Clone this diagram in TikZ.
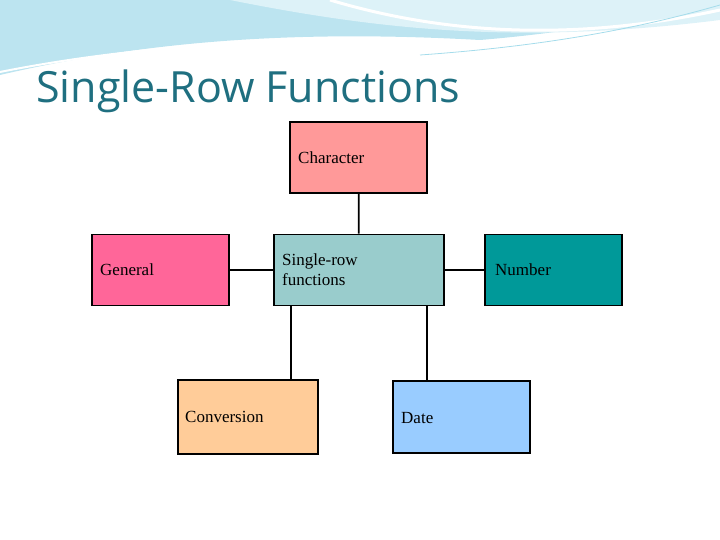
\documentclass[tikz,border=0pt]{standalone}
\usepackage{fontspec}
\setmainfont{Liberation Serif}
\newfontfamily\titlefont{Open Sans}
\usetikzlibrary{positioning}

\definecolor{charcol}{HTML}{FF9999}
\definecolor{gencol}{HTML}{FF6699}
\definecolor{srcol}{HTML}{99CCCC}
\definecolor{numcol}{HTML}{009999}
\definecolor{convcol}{HTML}{FFCC99}
\definecolor{datecol}{HTML}{99CCFF}
\definecolor{titlecol}{HTML}{1F6F80}
\definecolor{wave}{HTML}{8FD3E6}

\tikzset{
  fbox/.style={draw=black, line width=1.8pt, minimum width=137pt, minimum height=71pt,
    inner sep=0pt},
  lbl/.style={anchor=west, align=left, inner sep=0pt, font=\fontsize{17}{20}\selectfont},
  link/.style={line width=1.8pt}
}

\begin{document}
\begin{tikzpicture}[x=1pt, y=-1pt]
 \useasboundingbox (0,0) rectangle (720,540);
 % header waves
 \fill[wave!60] (0,0) -- (0,75) .. controls (150,40) and (300,30) .. (480,40)
   .. controls (600,30) and (680,10) .. (720,0) -- cycle;
 \fill[wave!30] (230,0) .. controls (380,30) and (520,45) .. (720,20) -- (720,0) -- cycle;
 \draw[white, line width=2pt] (0,72) .. controls (150,42) and (320,35) .. (470,45);
 \draw[white, line width=3pt] (330,0) .. controls (430,30) and (560,45) .. (720,10);
 \draw[wave!80, line width=0.8pt] (420,55) .. controls (560,45) and (650,25) .. (720,5);

 \node[anchor=base west, inner sep=0pt, font=\titlefont\fontsize{43}{48}\selectfont, text=titlecol]
   (title) at (36,103) {Single-Row Functions};

 % boxes
 \node[fbox, fill=charcol] (char) at (358.5,157.5) {};
 \node[fbox, fill=srcol, minimum width=170pt] (sr) at (359,270) {};
 \node[fbox, fill=gencol] (gen) at (160.5,270) {};
 \node[fbox, fill=numcol] (num) at (553.5,270) {};
 \node[fbox, fill=convcol, minimum width=140pt, minimum height=74pt] (conv) at (248,417) {};
 \node[fbox, fill=datecol, minimum height=72pt] (date) at (461.5,417) {};

 % labels
 \node[lbl] (charlbl) at (298,158) {Character};
 \node[lbl] (genlbl) at (100,270) {General};
 \node[lbl] (srlbl) at (282,270) {Single-row\\functions};
 \node[lbl] (numlbl) at (495,270) {Number};
 \node[lbl] (convlbl) at (185,417) {Conversion};
 \node[lbl] (datelbl) at (401,418) {Date};

 % connectors
 \coordinate (convtop) at (291,380);
 \coordinate (convsr) at (291,306);
 \coordinate (datetop) at (427,381);
 \coordinate (datesr) at (427,306);
 \draw[link] (char) -- (sr);
 \draw[link] (gen) -- (sr);
 \draw[link] (sr) -- (num);
 \draw[link] (convtop) -- (convsr);
 \draw[link] (datetop) -- (datesr);
\end{tikzpicture}
\end{document}
